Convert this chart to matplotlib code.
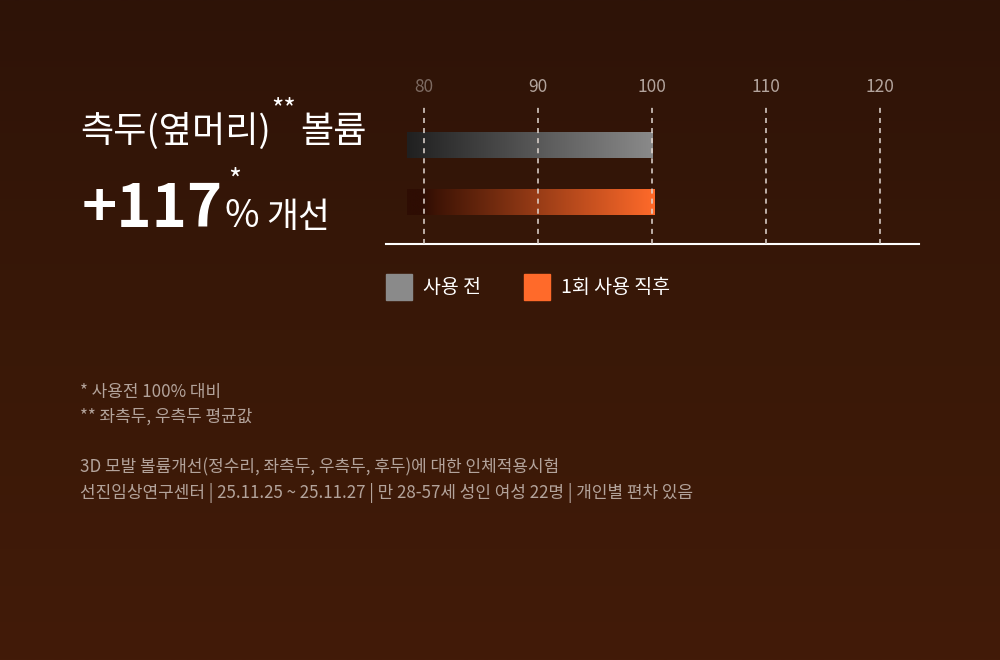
import numpy as np
import matplotlib
matplotlib.use('Agg')
import matplotlib.pyplot as plt
from matplotlib.colors import LinearSegmentedColormap
from matplotlib.patches import Rectangle

plt.rcParams['font.family'] = ['Noto Sans CJK KR', 'DejaVu Sans']

# data
categories = ['사용 전', '1회 사용 직후']
values = [100.0, 100.2]
bar_start = 78.5
ticks = [80, 90, 100, 110, 120]
legend_colors = ['#8a8a8a', '#ff6a2a']

title = '측두(옆머리)'
title_sup = '**'
title_end = '볼륨'
big_num = '+117'
big_sup = '*'
big_pct = '%'
big_end = '개선'

notes = [
    '* 사용전 100% 대비',
    '** 좌측두, 우측두 평균값',
    '',
    '3D 모발 볼륨개선(정수리, 좌측두, 우측두, 후두)에 대한 인체적용시험',
    '선진임상연구센터 | 25.11.25 ~ 25.11.27 | 만 28-57세 성인 여성 22명 | 개인별 편차 있음',
]

W, H = 1000, 660
fig = plt.figure(figsize=(W / 100, H / 100), dpi=100)


def fx(px):
    return px / W


def fy(py):
    return 1 - py / H


# background gradient
ax_bg = fig.add_axes([0, 0, 1, 1], zorder=0)
bg = LinearSegmentedColormap.from_list('bg', ['#2e1308', '#391807', '#421b09'])
ax_bg.imshow(np.linspace(0, 1, 256).reshape(-1, 1), cmap=bg, aspect='auto',
             extent=[0, 1, 0, 1], origin='upper')
ax_bg.axis('off')

# chart axes
ax = fig.add_axes([fx(386), fy(244), fx(919) - fx(386), fy(103) - fy(244)], zorder=1)
ax.set_facecolor('none')

cmaps = [
    LinearSegmentedColormap.from_list('before', ['#202020', '#8a8a8a']),
    LinearSegmentedColormap.from_list('after', [(0, '#2e0d03'), (0.06, '#2e0d03'),
                                                (0.12, '#3f1405'), (1, '#ff6a2a')]),
]
bar_h = 0.435
grad = np.linspace(0, 1, 256).reshape(1, -1)
for i, v in enumerate(values):
    ax.imshow(grad, cmap=cmaps[i], aspect='auto', zorder=2,
              extent=[bar_start, v, i + bar_h / 2, i - bar_h / 2])

for t in ticks:
    ax.axvline(t, color='#e2d8d2', lw=1.1, ls=(0, (3.3, 3.3)), zorder=3)

for s in ['top', 'left', 'right']:
    ax.spines[s].set_visible(False)
ax.spines['bottom'].set_color('white')
ax.spines['bottom'].set_linewidth(1.5)
ax.set_yticks([])
ax.xaxis.tick_top()
ax.set_xticks(ticks)
ax.set_xticklabels([str(t) for t in ticks])
ax.tick_params(axis='x', length=0, pad=5, labelsize=12.5, labelcolor='#b3a49d')
ax.get_xticklabels()[0].set_color('#7d6a61')
ax.set_xlim(76.64, 123.4)
ax.set_ylim(1.72, -0.73)

fig.canvas.draw()
r = fig.canvas.get_renderer()


def right_edge(t):
    return t.get_window_extent(r).x1 / W


# title block
t1 = fig.text(fx(80), fy(142), title, fontsize=26, color='white', va='baseline')
t2 = fig.text(right_edge(t1) + 0.001, fy(117), title_sup, fontsize=19, color='white', va='baseline')
t3 = fig.text(right_edge(t2) + 0.004, fy(142), title_end, fontsize=26, color='white', va='baseline')

# big number
n1 = fig.text(fx(82), fy(227), big_num, fontsize=43, fontweight='bold', color='white', va='baseline')
px0 = right_edge(n1) + 0.001
n3 = fig.text(px0, fy(227), big_pct, fontsize=27, color='white', va='baseline')
n2 = fig.text(px0 + 0.004, fy(190), big_sup, fontsize=20, color='white', va='baseline')
n4 = fig.text(right_edge(n3) + 0.008, fy(227), big_end, fontsize=25, color='white', va='baseline')

# legend
for x0, c, lab in zip([386, 524], legend_colors, categories):
    fig.add_artist(Rectangle((fx(x0), fy(300)), 26 / W, 26 / H, transform=fig.transFigure,
                             color=c, zorder=2))
    fig.text(fx(x0 + 37), fy(288), lab, fontsize=14, color='white', va='center')

# notes
ys = [392, 417, 442, 467, 493]
for y, line in zip(ys, notes):
    if line:
        fig.text(fx(80), fy(y), line, fontsize=12.2, color='#b3a39b', va='center')

fig.savefig('out.png', dpi=100)
